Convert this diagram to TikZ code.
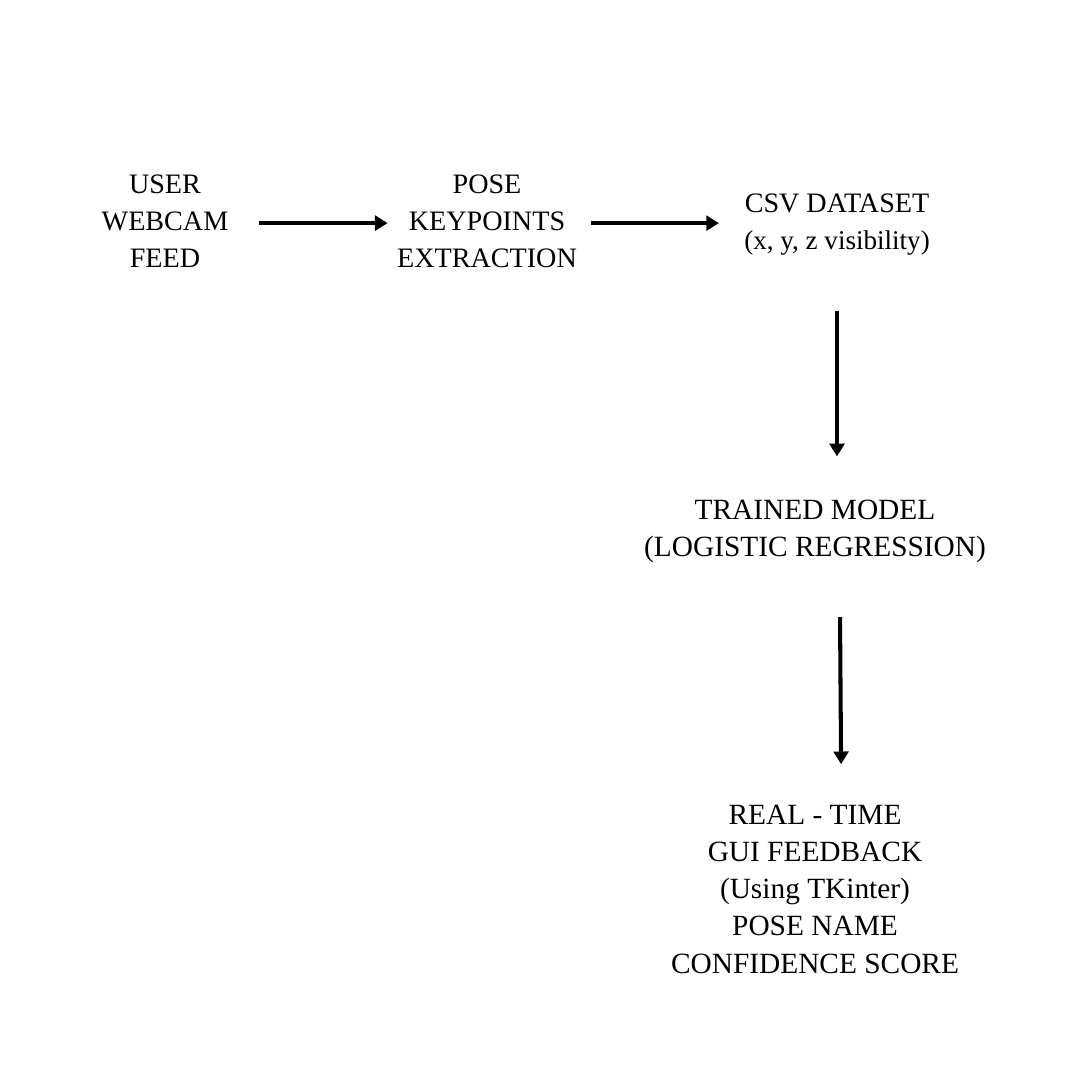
\documentclass[tikz,border=0pt]{standalone}
\usepackage{fontspec}
\setmainfont{Liberation Serif}
\usetikzlibrary{arrows.meta}

\begin{document}
\begin{tikzpicture}[x=0.01cm, y=-0.01cm,
  every node/.style={align=center, inner sep=0pt, font=\fontsize{8}{10.5}\selectfont},
  big/.style={font=\fontsize{8.35}{10.6}\selectfont},
  flow/.style={line width=1.15pt, -{Triangle[length=3.6pt, width=4.2pt]}}]
\useasboundingbox (0,0) rectangle (1080,1080);

\node (user) at (165,221) {USER\\WEBCAM\\FEED};
\node (pose) at (487,221) {POSE\\KEYPOINTS\\EXTRACTION};
\node (csv) at (837,225) {CSV DATASET\\{\fontsize{7.7}{10.5}\selectfont (x, y, z visibility)}};
\node[big] (model) at (815,531.5) {TRAINED MODEL\\(LOGISTIC REGRESSION)};
\node[big] (gui) at (815,889) {REAL - TIME\\GUI FEEDBACK\\(Using TKinter)\\POSE NAME\\CONFIDENCE SCORE};

\draw[flow, shorten <=8.5pt, shorten >=2.5pt] ([yshift=-0.6pt]user.east) -- ([yshift=-0.6pt]pose.west);
\draw[flow, shorten <=3.7pt, shorten >=7pt] ([yshift=-0.6pt]pose.east) -- ([yshift=-0.6pt]pose.east -| csv.west);
\draw[flow, shorten <=15.4pt, shorten >=12.2pt] (csv.south) -- (csv.south |- model.north);
\draw[flow, shorten <=15.2pt, shorten >=11.3pt] ([xshift=7pt]model.south) -- ([xshift=7.5pt]model.south |- gui.north);
\end{tikzpicture}
\end{document}
